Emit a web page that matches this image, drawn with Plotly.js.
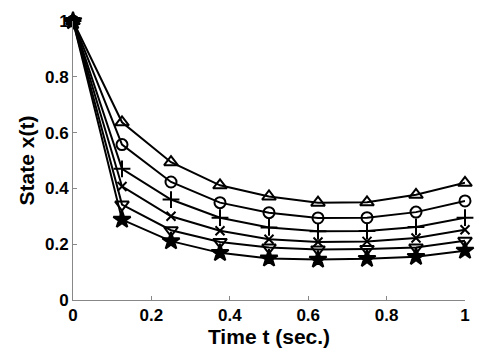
<!DOCTYPE html>
<html>
<head>
<meta charset="utf-8">
<script src="https://cdn.plot.ly/plotly-3.0.1.min.js"></script>
<style>html,body{margin:0;padding:0;background:#fff}#chart{width:491px;height:354px}</style>
</head>
<body>
<div id="chart"></div>
<script>
const t = [0, 0.125, 0.25, 0.375, 0.5, 0.625, 0.75, 0.875, 1];
const seriesTriUp   = [1, 0.637, 0.494, 0.411, 0.371, 0.349, 0.350, 0.377, 0.420];
const seriesCircle  = [1, 0.557, 0.423, 0.349, 0.313, 0.294, 0.295, 0.315, 0.355];
const seriesPlus    = [1, 0.470, 0.360, 0.295, 0.260, 0.246, 0.247, 0.262, 0.295];
const seriesX       = [1, 0.407, 0.300, 0.248, 0.218, 0.208, 0.210, 0.222, 0.252];
const seriesTriDown = [1, 0.342, 0.250, 0.208, 0.188, 0.181, 0.183, 0.188, 0.212];
const seriesStar    = [1, 0.288, 0.211, 0.169, 0.149, 0.145, 0.148, 0.155, 0.177];
const xTicks = [0, 0.2, 0.4, 0.6, 0.8, 1];
const xTickText = ['0', '0.2', '0.4', '0.6', '0.8', '1'];
const yTicks = [0, 0.2, 0.4, 0.6, 0.8, 1];
const yTickText = ['0', '0.2', '0.4', '0.6', '0.8', '1'];

function tr(y, symbol, size) {
  return {
    x: t, y: y, type: 'scatter', mode: 'lines+markers',
    line: {color: '#000', width: 2},
    marker: {symbol: symbol, size: size, color: '#000',
             line: {color: '#000', width: 2}},
    cliponaxis: false, showlegend: false
  };
}
const data = [
  tr(seriesTriUp, 'triangle-up-open', 12),
  tr(seriesCircle, 'circle-open', 11),
  tr(seriesPlus, 'cross-thin-open', 12),
  tr(seriesX, 'x-thin-open', 9),
  tr(seriesTriDown, 'triangle-down-open', 12),
  tr(seriesStar, 'star', 13)
];
const font = {family: 'Liberation Sans, Arial, sans-serif', color: '#000'};
const layout = {
  width: 491, height: 354,
  margin: {l: 73, r: 26, t: 21, b: 54},
  paper_bgcolor: '#fff', plot_bgcolor: '#fff',
  xaxis: {
    range: [0, 1], tickvals: xTicks, ticktext: xTickText,
    ticks: 'inside', ticklen: 4, tickcolor: '#888', tickwidth: 1,
    showline: true, linecolor: '#888', linewidth: 1, showgrid: false, zeroline: false,
    tickfont: Object.assign({size: 17, weight: 'bold'}, font),
    title: {text: '<b>Time t (sec.)</b>', font: Object.assign({size: 21}, font), standoff: 0}
  },
  yaxis: {
    range: [0, 1], tickvals: yTicks, ticktext: yTickText,
    ticks: 'inside', ticklen: 4, tickcolor: '#888', tickwidth: 1,
    showline: true, linecolor: '#888', linewidth: 1, showgrid: false, zeroline: false,
    tickfont: Object.assign({size: 17, weight: 'bold'}, font),
    title: {text: '<b>State x(t)</b>', font: Object.assign({size: 21}, font), standoff: 4}
  }
};
Plotly.newPlot('chart', data, layout, {displayModeBar: false, staticPlot: true});
</script>
</body>
</html>
